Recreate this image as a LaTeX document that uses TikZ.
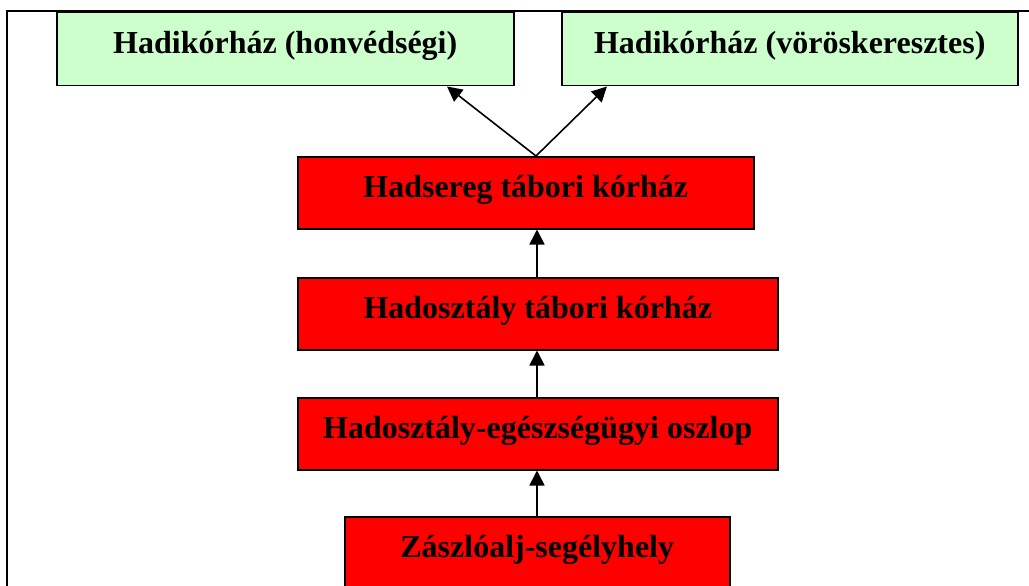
\documentclass[tikz,border=0pt]{standalone}
\usepackage{fontspec}
\setmainfont{Liberation Serif}
\usetikzlibrary{arrows.meta}
\definecolor{paleGreen}{HTML}{CCFFCC}
\begin{document}
\begin{tikzpicture}[x=1pt,y=-1pt,
  box/.style={draw=black, line width=1.5pt, inner sep=0pt, text height=41pt,
    font=\bfseries\fontsize{32}{38}\selectfont, anchor=north west},
  greenbox/.style={box, fill=paleGreen, text depth=32pt},
  redbox/.style={box, fill=red, text depth=31pt},
  link/.style={line width=1.6pt, -{Triangle[length=15pt,width=15pt]}}]
\useasboundingbox (0,0) rectangle (1029,586);
% outer frame (open to the right and bottom)
\draw[line width=2pt] (7,586) -- (7,11) -- (1029,11);
% hospitals at the top
\node[greenbox, minimum width=457pt] (hv) at (56,12) {Hadikórház (honvédségi)};
\node[greenbox, minimum width=456pt] (vk) at (561,12) {Hadikórház (vöröskeresztes)};
% evacuation chain
\node[redbox, minimum width=456pt] (hs) at (297,156) {Hadsereg tábori kórház};
\node[redbox, minimum width=480pt] (ht) at (297,277) {Hadosztály tábori kórház};
\node[redbox, minimum width=480pt] (he) at (297,397) {Hadosztály-egészségügyi oszlop};
\node[box, fill=red, text depth=45pt, minimum width=385pt] (zs) at (344,516) {Zászlóalj-segélyhely};
% connector guides
\coordinate (ax) at (537,0);
\coordinate (fork) at (536,0);
\coordinate (tl) at (447,0);
\coordinate (tr) at (607,0);
\draw[link] (zs.north -| ax) -- (he.south -| ax);
\draw[link] (he.north -| ax) -- (ht.south -| ax);
\draw[link] (ht.north -| ax) -- (hs.south -| ax);
\draw[link] (hs.north -| fork) -- (hv.south -| tl);
\draw[link] (hs.north -| fork) -- (vk.south -| tr);
\end{tikzpicture}
\end{document}
